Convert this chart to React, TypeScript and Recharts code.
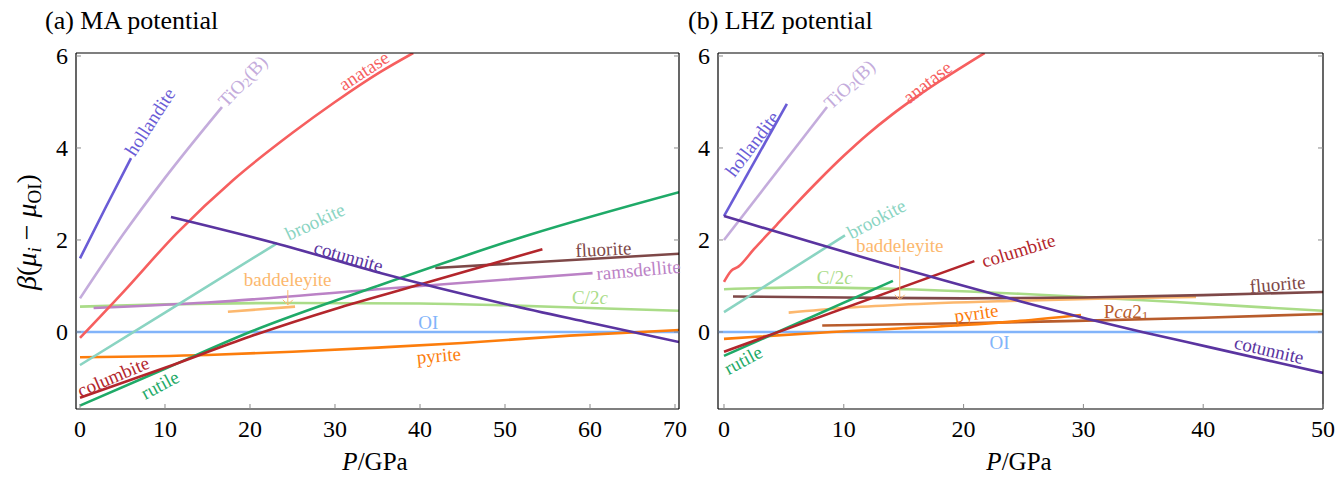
import React from 'react';
import { LineChart, Line, XAxis, YAxis, ReferenceDot, ReferenceLine } from 'recharts';

const FONT = 'Liberation Serif, DejaVu Serif, serif';
type Pt = [number, number];

// ---------- Panel (a): MA potential  (P/GPa, beta(mu_i - mu_OI)) ----------
const maHollandite: Pt[] = [[0, 1.6], [3, 2.7], [6, 3.78]];
const maTiO2B: Pt[] = [[0, 0.73], [5, 2.1], [10, 3.35], [16.7, 4.89]];
const maAnatase: Pt[] = [[0, -0.13], [5, 0.85], [11.4, 2.15], [18, 3.3], [25, 4.33], [30, 5.0], [35.3, 5.65], [39.2, 6.065]];
const maBrookite: Pt[] = [[0, -0.72], [10, 0.42], [23.2, 1.93]];
const maCotunnite: Pt[] = [[10.7, 2.5], [23, 1.93], [35, 1.3], [50, 0.61], [60, 0.2], [70.47, -0.22]];
const maRutile: Pt[] = [[0, -1.6], [10, -0.8], [20, 0], [35, 1.0], [53, 2.12], [70.47, 3.04]];
const maColumbite: Pt[] = [[0, -1.43], [10, -0.78], [20, -0.1], [30, 0.5], [40, 1.03], [54.4, 1.8]];
const maFluorite: Pt[] = [[41.8, 1.39], [70.47, 1.7]];
const maRamsdellite: Pt[] = [[1.6, 0.52], [15, 0.64], [35, 0.93], [60.3, 1.28]];
const maC2c: Pt[] = [[0, 0.55], [10, 0.6], [25, 0.63], [40, 0.62], [50, 0.58], [60, 0.52], [70.47, 0.46]];
const maBaddeleyite: Pt[] = [[17.4, 0.44], [25.3, 0.55]];
const maOI: Pt[] = [[-0.47, 0], [70.47, 0]];
const maPyrite: Pt[] = [[0, -0.55], [15, -0.5], [25, -0.43], [35, -0.34], [45, -0.24], [57.6, -0.08], [70.47, 0.04]];

// ---------- Panel (b): LHZ potential ----------
const lhzHollandite: Pt[] = [[0, 2.52], [5.25, 4.96]];
const lhzTiO2B: Pt[] = [[0, 2.0], [8.6, 4.89]];
const lhzAnatase: Pt[] = [[0, 1.09], [0.6, 1.33], [1.2, 1.42], [2.5, 1.8], [4.4, 2.33], [6, 2.78], [8, 3.32], [10, 3.83], [12, 4.3], [14, 4.72], [16, 5.1], [18, 5.45], [21.75, 6.065]];
const lhzBrookite: Pt[] = [[0, 0.43], [10.1, 2.1]];
const lhzCotunnite: Pt[] = [[0, 2.52], [14.7, 1.39], [24.7, 0.67], [30.9, 0.25], [34.9, 0], [40.5, -0.33], [50, -0.89]];
const lhzRutile: Pt[] = [[0, -0.52], [14.1, 1.11]];
const lhzColumbite: Pt[] = [[0, -0.43], [20.9, 1.54]];
const lhzC2c: Pt[] = [[0, 0.93], [7, 0.97], [15, 0.93], [24.7, 0.83], [30, 0.76], [37.7, 0.65], [44, 0.55], [50, 0.46]];
const lhzFluorite: Pt[] = [[0.75, 0.77], [10, 0.75], [20, 0.73], [30, 0.75], [40, 0.8], [50, 0.87]];
const lhzBaddeleyite: Pt[] = [[5.4, 0.42], [10, 0.52], [14.7, 0.59], [24.7, 0.68], [32, 0.73], [39.4, 0.76]];
const lhzPyrite: Pt[] = [[0, -0.15], [9, 0.0], [15, 0.08], [20, 0.15], [24.7, 0.24], [29.8, 0.37]];
const lhzPca21: Pt[] = [[8.2, 0.14], [20, 0.19], [29.4, 0.24], [40, 0.31], [50, 0.39]];
const lhzOI: Pt[] = [[-0.5, 0], [50, 0]];

// ---------- axes ----------
const maXTicks = [0, 10, 20, 30, 40, 50, 60, 70];
const lhzXTicks = [0, 10, 20, 30, 40, 50];
const yTicks = [0, 2, 4, 6];
const maXDomain: [number, number] = [-0.47, 70.47];
const lhzXDomain: [number, number] = [-0.5, 50];
const yDomain: [number, number] = [-1.675, 6.065];

// ---------- styles ----------
const COLORS: Record<string, string> = {
  hollandite: '#6a5cd6',
  tio2b: '#c4acdc',
  anatase: '#f65f5f',
  brookite: '#8ad4c2',
  cotunnite: '#5a34a0',
  rutile: '#1faa68',
  columbite: '#b3262c',
  fluorite: '#7e4848',
  ramsdellite: '#bb82c6',
  c2c: '#aadc88',
  baddeleyite: '#fcb86e',
  oi: '#82b4fa',
  pyrite: '#fc7d0c',
  pca21: '#b85c2c',
};

type Series = { key: string; pts: Pt[] };
const maSeries: Series[] = [
  { key: 'oi', pts: maOI },
  { key: 'c2c', pts: maC2c },
  { key: 'ramsdellite', pts: maRamsdellite },
  { key: 'baddeleyite', pts: maBaddeleyite },
  { key: 'fluorite', pts: maFluorite },
  { key: 'pyrite', pts: maPyrite },
  { key: 'brookite', pts: maBrookite },
  { key: 'tio2b', pts: maTiO2B },
  { key: 'hollandite', pts: maHollandite },
  { key: 'anatase', pts: maAnatase },
  { key: 'rutile', pts: maRutile },
  { key: 'columbite', pts: maColumbite },
  { key: 'cotunnite', pts: maCotunnite },
];
const lhzSeries: Series[] = [
  { key: 'oi', pts: lhzOI },
  { key: 'c2c', pts: lhzC2c },
  { key: 'baddeleyite', pts: lhzBaddeleyite },
  { key: 'fluorite', pts: lhzFluorite },
  { key: 'pca21', pts: lhzPca21 },
  { key: 'pyrite', pts: lhzPyrite },
  { key: 'brookite', pts: lhzBrookite },
  { key: 'tio2b', pts: lhzTiO2B },
  { key: 'hollandite', pts: lhzHollandite },
  { key: 'anatase', pts: lhzAnatase },
  { key: 'rutile', pts: lhzRutile },
  { key: 'columbite', pts: lhzColumbite },
  { key: 'cotunnite', pts: lhzCotunnite },
];

// annotation anchors (data coordinates) and rotations
type Ann = { key: string; text: string; P: number; v: number; angle: number };
const maLabels: Ann[] = [
  { key: 'hollandite', text: 'hollandite', P: 8.24, v: 4.57, angle: -57 },
  { key: 'tio2b', text: 'TiO2(B)', P: 19.1, v: 5.46, angle: -47 },
  { key: 'anatase', text: 'anatase', P: 33.4, v: 5.68, angle: -33 },
  { key: 'brookite', text: 'brookite', P: 27.65, v: 2.4, angle: -25 },
  { key: 'cotunnite', text: 'cotunnite', P: 31.6, v: 1.64, angle: 16 },
  { key: 'baddeleyite', text: 'baddeleyite', P: 24.43, v: 1.15, angle: 0 },
  { key: 'fluorite', text: 'fluorite', P: 61.57, v: 1.8, angle: -3 },
  { key: 'ramsdellite', text: 'ramsdellite', P: 65.7, v: 1.35, angle: -5 },
  { key: 'c2c', text: 'C/2c', P: 60, v: 0.75, angle: 0 },
  { key: 'oi', text: 'OI', P: 40.98, v: 0.21, angle: 0 },
  { key: 'pyrite', text: 'pyrite', P: 42.2, v: -0.51, angle: -5 },
  { key: 'columbite', text: 'columbite', P: 3.92, v: -0.97, angle: -23 },
  { key: 'rutile', text: 'rutile', P: 9.41, v: -1.15, angle: -28 },
];
const lhzLabels: Ann[] = [
  { key: 'hollandite', text: 'hollandite', P: 2.36, v: 4.09, angle: -53 },
  { key: 'tio2b', text: 'TiO2(B)', P: 10.44, v: 5.39, angle: -43 },
  { key: 'anatase', text: 'anatase', P: 16.97, v: 5.43, angle: -38 },
  { key: 'brookite', text: 'brookite', P: 12.72, v: 2.46, angle: -28 },
  { key: 'baddeleyite', text: 'baddeleyite', P: 14.67, v: 1.89, angle: 0 },
  { key: 'columbite', text: 'columbite', P: 24.57, v: 1.77, angle: -17 },
  { key: 'c2c', text: 'C/2c', P: 9.25, v: 1.2, angle: 0 },
  { key: 'rutile', text: 'rutile', P: 1.6, v: -0.61, angle: -28 },
  { key: 'pyrite', text: 'pyrite', P: 21.06, v: 0.41, angle: -8 },
  { key: 'oi', text: 'OI', P: 23, v: -0.22, angle: 0 },
  { key: 'pca21', text: 'Pca21', P: 33.56, v: 0.46, angle: 0 },
  { key: 'fluorite', text: 'fluorite', P: 46.2, v: 1.04, angle: -5 },
  { key: 'cotunnite', text: 'cotunnite', P: 45.5, v: -0.39, angle: 13 },
];
type Arrow = { P: number; from: number; to: number };
const maArrow: Arrow = { P: 24.45, from: 0.91, to: 0.59 };
const lhzArrow: Arrow = { P: 14.67, from: 1.64, to: 0.7 };

const TICK = '#8a8a8a';
const TICK_FS = 24;
const LABEL_FS = 19;
const fontStyle = { fontFamily: FONT };

function richText(text: string) {
  if (text === 'TiO2(B)')
    return [
      <tspan key="a">TiO</tspan>,
      <tspan key="b" fontSize={LABEL_FS * 0.7} dy={4}>2</tspan>,
      <tspan key="c" dy={-4}>(B)</tspan>,
    ];
  if (text === 'C/2c')
    return [<tspan key="a">C/2</tspan>, <tspan key="b" fontStyle="italic">c</tspan>];
  if (text === 'Pca21')
    return [
      <tspan key="a">P</tspan>,
      <tspan key="b" fontStyle="italic">ca</tspan>,
      <tspan key="c">2</tspan>,
      <tspan key="d" fontSize={LABEL_FS * 0.7} dy={4}>1</tspan>,
    ];
  return text;
}

const BottomTick = (props: any) => {
  const { x, y, payload } = props;
  return (
    <g>
      <line x1={x} x2={x} y1={y} y2={y - 5} stroke={TICK} strokeWidth={1} />
      <text x={x} y={y + 28} textAnchor="middle" style={fontStyle} fontSize={TICK_FS} fill="#000">
        {payload.value}
      </text>
    </g>
  );
};
const TopTick = (props: any) => {
  const { x, y } = props;
  return <line x1={x} x2={x} y1={y} y2={y + 5} stroke={TICK} strokeWidth={1} />;
};
const LeftTick = (props: any) => {
  const { x, y, payload } = props;
  return (
    <g>
      <line x1={x} x2={x + 5} y1={y} y2={y} stroke={TICK} strokeWidth={1} />
      <text x={x - 8} y={y + 8} textAnchor="end" style={fontStyle} fontSize={TICK_FS} fill="#000">
        {payload.value}
      </text>
    </g>
  );
};
const RightTick = (props: any) => {
  const { x, y } = props;
  return <line x1={x} x2={x - 5} y1={y} y2={y} stroke={TICK} strokeWidth={1} />;
};

type PanelProps = {
  width: number;
  height: number;
  margin: { top: number; right: number; bottom: number; left: number };
  xDomain: [number, number];
  xTicks: number[];
  series: Series[];
  labels: Ann[];
  arrow: Arrow;
};

function Panel({ width, height, margin, xDomain, xTicks, series, labels, arrow }: PanelProps) {
  const axisLine = { stroke: '#000', strokeWidth: 1.2 };
  const col = COLORS.baddeleyite;
  return (
    <LineChart width={width} height={height} margin={margin}>
      <XAxis
        type="number"
        dataKey="P"
        domain={xDomain}
        ticks={xTicks}
        interval={0}
        allowDataOverflow
        height={1}
        tickSize={0}
        tickMargin={0}
        tickLine={false}
        axisLine={axisLine}
        tick={<BottomTick />}
      />
      <XAxis
        xAxisId="top"
        orientation="top"
        type="number"
        domain={xDomain}
        ticks={xTicks}
        interval={0}
        allowDataOverflow
        height={1}
        tickSize={0}
        tickMargin={0}
        tickLine={false}
        axisLine={axisLine}
        tick={<TopTick />}
      />
      <YAxis
        type="number"
        domain={yDomain}
        ticks={yTicks}
        interval={0}
        allowDataOverflow
        width={1}
        tickSize={0}
        tickMargin={0}
        tickLine={false}
        axisLine={axisLine}
        tick={<LeftTick />}
      />
      <YAxis
        yAxisId="right"
        orientation="right"
        type="number"
        domain={yDomain}
        ticks={yTicks}
        interval={0}
        allowDataOverflow
        width={1}
        tickSize={0}
        tickMargin={0}
        tickLine={false}
        axisLine={axisLine}
        tick={<RightTick />}
      />
      {series.map((s) => (
        <Line
          key={s.key}
          data={s.pts.map(([P, v]) => ({ P, v }))}
          dataKey="v"
          type="monotone"
          stroke={COLORS[s.key]}
          strokeWidth={2.6}
          dot={false}
          activeDot={false}
          isAnimationActive={false}
        />
      ))}
      <ReferenceLine
        segment={[{ x: arrow.P, y: arrow.from }, { x: arrow.P, y: arrow.to }]}
        stroke={col}
        strokeWidth={1}
        ifOverflow="visible"
      />
      <ReferenceDot
        x={arrow.P}
        y={arrow.to}
        r={0}
        ifOverflow="visible"
        shape={(p: any) => (
          <polyline
            points={`${p.cx - 5},${p.cy - 5} ${p.cx},${p.cy} ${p.cx + 5},${p.cy - 5}`}
            fill="none"
            stroke={col}
            strokeWidth={1}
          />
        )}
      />
      {labels.map((l) => (
        <ReferenceDot
          key={'lab-' + l.key}
          x={l.P}
          y={l.v}
          r={0}
          ifOverflow="visible"
          shape={(p: any) => (
            <text
              x={p.cx}
              y={p.cy}
              transform={`rotate(${l.angle} ${p.cx} ${p.cy})`}
              textAnchor="middle"
              dominantBaseline="central"
              style={fontStyle}
              fontSize={LABEL_FS}
              fill={COLORS[l.key]}
            >
              {richText(l.text)}
            </text>
          )}
        />
      ))}
    </LineChart>
  );
}

export default function App() {
  return (
    <div style={{ position: 'absolute', left: 0, top: 0, width: 1338, height: 480, background: '#fff', overflow: 'hidden', fontFamily: FONT }}>
      <div style={{ position: 'absolute', left: 0, top: 0 }}>
        <Panel
          width={690}
          height={480}
          margin={{ top: 52, right: 10, bottom: 70, left: 75 }}
          xDomain={maXDomain}
          xTicks={maXTicks}
          series={maSeries}
          labels={maLabels}
          arrow={maArrow}
        />
      </div>
      <div style={{ position: 'absolute', left: 690, top: 0 }}>
        <Panel
          width={648}
          height={480}
          margin={{ top: 52, right: 14, bottom: 70, left: 27 }}
          xDomain={lhzXDomain}
          xTicks={lhzXTicks}
          series={lhzSeries}
          labels={lhzLabels}
          arrow={lhzArrow}
        />
      </div>
      <svg width={1338} height={480} style={{ position: 'absolute', left: 0, top: 0, pointerEvents: 'none' }}>
        <g style={fontStyle} fill="#000">
          <text x={45} y={29} fontSize={26}>(a) MA potential</text>
          <text x={688} y={29} fontSize={26}>(b) LHZ potential</text>
          <text x={375} y={470} fontSize={25} textAnchor="middle">
            <tspan fontStyle="italic">P</tspan>/GPa
          </text>
          <text x={1019} y={470} fontSize={25} textAnchor="middle">
            <tspan fontStyle="italic">P</tspan>/GPa
          </text>
          <text x={36} y={232} fontSize={28} textAnchor="middle" transform="rotate(-90 36 232)">
            <tspan fontStyle="italic">β</tspan>
            <tspan>(</tspan>
            <tspan fontStyle="italic">μ</tspan>
            <tspan fontStyle="italic" fontSize={19} dy={5}>i</tspan>
            <tspan dy={-5}> − </tspan>
            <tspan fontStyle="italic">μ</tspan>
            <tspan fontSize={19} dy={5}>OI</tspan>
            <tspan dy={-5}>)</tspan>
          </text>
        </g>
      </svg>
    </div>
  );
}
